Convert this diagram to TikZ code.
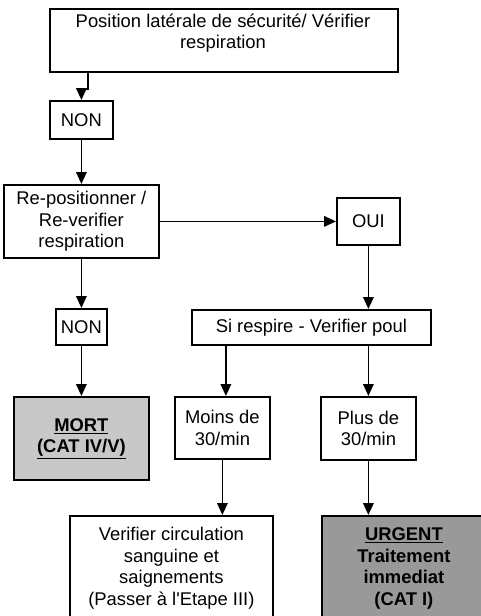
\documentclass[tikz,border=0pt]{standalone}
\usepackage{fontspec}
\setmainfont{Liberation Sans}
\usetikzlibrary{arrows.meta}
\begin{document}
\begin{tikzpicture}[x=1pt,y=-1pt,
  base/.style={align=center, inner sep=0pt, font=\fontsize{18.4}{21.5}\selectfont},
  box/.style={base, draw=black, line width=1.8pt, fill=white, anchor=north west},
  txt/.style={base},
  arr/.style={line width=1.8pt, -{Triangle[length=12pt,width=10.5pt]}},
]
\clip (0,0) rectangle (481,616);
\fill[white] (0,0) rectangle (481,616);

\node[box, minimum width=348pt, minimum height=63pt] (top) at (49,8) {};
\node[txt] (topT) at (223,33) {Position latérale de sécurité/ Vérifier\\respiration};

\node[box, minimum width=63pt, minimum height=38pt] (non1) at (49,100) {NON};
\node[box, minimum width=155pt, minimum height=73pt] (repos) at (3,184) {Re-positionner /\\Re-verifier\\respiration};
\node[box, minimum width=63pt, minimum height=47pt] (oui) at (336,197) {OUI};
\node[box, minimum width=51pt, minimum height=36pt] (non2) at (55,308) {NON};
\node[box, minimum width=239pt, minimum height=35pt] (si) at (191,309) {Si respire - Verifier poul};
\node[box, minimum width=135pt, minimum height=83pt, fill={rgb,255:red,200;green,200;blue,200}] (mort) at (13,396) {\textbf{\underline{MORT}}\\\textbf{\underline{(CAT IV/V)}}};
\node[box, minimum width=95pt, minimum height=62pt] (moins) at (174,396) {Moins de\\30/min};
\node[box, minimum width=95pt, minimum height=63pt] (plus) at (320,396) {Plus de\\30/min};
\node[box, minimum width=203pt, minimum height=105pt] (verif) at (69,515) {Verifier circulation\\sanguine et\\saignements\\(Passer à l\textquotesingle Etape III)};
\node[box, minimum width=164pt, minimum height=105pt, fill={rgb,255:red,153;green,153;blue,153}] (urg) at (321,515) {\textbf{\underline{URGENT}}\\\textbf{Traitement}\\\textbf{immediat}\\\textbf{(CAT I)}};

\draw[arr] ([xshift=39pt]top.south west) -- ++(0,16) -| (non1.north);
\draw[arr] (non1.south) -- (repos.north);
\draw[arr] (repos.east) -- (oui.west);
\draw[arr] (oui.south) -- (oui.south |- si.north);
\draw[arr] (repos.south) -- (non2.north);
\draw[arr] (non2.south) -- (mort.north);
\draw[arr] ([xshift=3.5pt]moins.north |- si.south) -- ([xshift=3.5pt]moins.north);
\draw[arr] (plus.north |- si.south) -- (plus.north);
\draw[arr] (moins.south) -- (moins.south |- verif.north);
\draw[arr] (plus.south) -- (plus.south |- urg.north);
\end{tikzpicture}
\end{document}
